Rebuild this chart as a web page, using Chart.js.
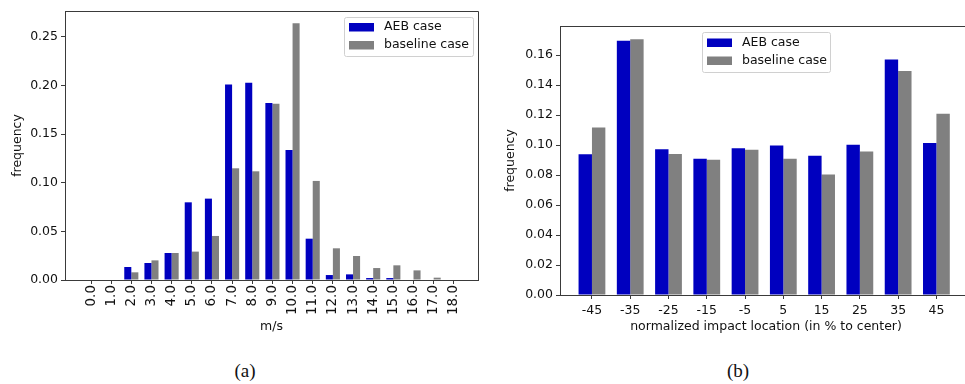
<!DOCTYPE html>
<html>
<head>
<meta charset="utf-8">
<script src="https://cdn.jsdelivr.net/npm/chart.js@4/dist/chart.umd.min.js"></script>
<style>
  html, body { margin:0; padding:0; background:#fff; width:965px; height:384px; overflow:hidden; }
  #wrapA { position:absolute; left:0; top:0; width:500px; height:340px; }
  #wrapB { position:absolute; left:500px; top:0; width:480px; height:340px; }
  .sub { position:absolute; top:360px; font-family:"Liberation Serif", "DejaVu Serif", serif; font-size:19px; color:#111; transform:translateX(-50%); }
</style>
</head>
<body>
<div id="wrapA"><canvas id="chartA" width="500" height="340"></canvas></div>
<div id="wrapB"><canvas id="chartB" width="480" height="340"></canvas></div>
<div class="sub" style="left:245px;">(a)</div>
<div class="sub" style="left:738px;">(b)</div>
<script>
// ---- data (a): impact speed distribution ----
const speedLabels = ['0.0','1.0','2.0','3.0','4.0','5.0','6.0','7.0','8.0','9.0','10.0','11.0','12.0','13.0','14.0','15.0','16.0','17.0','18.0'];
const aebSpeed  = [0, 0.0005, 0.0134, 0.0175, 0.0278, 0.0799, 0.0837, 0.2010, 0.2030, 0.1820, 0.1337, 0.0425, 0.0051, 0.0058, 0.0020, 0.0020, 0.0005, 0.0005, 0];
const baseSpeed = [0, 0, 0.0079, 0.0202, 0.0278, 0.0292, 0.0453, 0.1149, 0.1118, 0.1814, 0.2640, 0.1019, 0.0326, 0.0247, 0.0123, 0.0151, 0.0099, 0.0024, 0];
const speedYTicks = [0, 0.05, 0.10, 0.15, 0.20, 0.25];

// ---- data (b): normalized impact location ----
const impactLabels = ['-45','-35','-25','-15','-5','5','15','25','35','45'];
const aebImpact  = [0.0939, 0.1696, 0.0972, 0.0910, 0.0979, 0.0997, 0.0930, 0.1003, 0.1572, 0.1014];
const baseImpact = [0.1117, 0.1707, 0.0941, 0.0903, 0.0970, 0.0910, 0.0804, 0.0957, 0.1494, 0.1210];
const impactYTicks = [0, 0.02, 0.04, 0.06, 0.08, 0.10, 0.12, 0.14, 0.16];

const seriesNames = ['AEB case', 'baseline case'];
const BLUE = '#0000bf';
const GRAY = '#808080';
const FONT = 'DejaVu Sans';
const AXIS = '#3a3a3a';

const toXY = arr => arr.map((v, i) => ({x: i, y: v}));

const framePlugin = {
  id: 'frame',
  afterDraw(chart) {
    const {ctx, chartArea: a} = chart;
    ctx.save();
    ctx.strokeStyle = AXIS;
    ctx.lineWidth = 1;
    ctx.beginPath();
    ctx.moveTo(a.left, a.top + 0.5);
    ctx.lineTo(a.right + 0.5, a.top + 0.5);
    ctx.lineTo(a.right + 0.5, a.bottom);
    ctx.stroke();
    ctx.restore();
  }
};

const boxLegend = {
  id: 'boxLegend',
  afterDraw(chart, args, o) {
    const ctx = chart.ctx;
    ctx.save();
    ctx.fillStyle = 'rgba(255,255,255,0.85)';
    ctx.strokeStyle = '#d0d0d0';
    ctx.lineWidth = 1;
    ctx.beginPath();
    ctx.roundRect(o.x + 0.5, o.y + 0.5, o.w, o.h, 2);
    ctx.fill();
    ctx.stroke();
    ctx.font = '12.5px "' + FONT + '"';
    ctx.textBaseline = 'middle';
    chart.data.datasets.forEach((ds, i) => {
      const cy = o.y + o.row0 + i * o.gap;
      ctx.fillStyle = ds.backgroundColor;
      ctx.fillRect(o.swX, cy - 4, 25, 8.5);
      ctx.fillStyle = '#111';
      ctx.fillText(ds.label, o.txX, cy);
    });
    ctx.restore();
  }
};

function makeChart(id, labels, aeb, base, yTicks, ymax, xmin, xmax, xFmt, opts) {
  return new Chart(document.getElementById(id), {
    type: 'bar',
    data: {
      datasets: [
        {label: seriesNames[0], data: toXY(aeb), backgroundColor: BLUE, borderWidth: 0},
        {label: seriesNames[1], data: toXY(base), backgroundColor: GRAY, borderWidth: 0}
      ]
    },
    options: {
      responsive: false,
      animation: false,
      events: [],
      categoryPercentage: 0.7,
      barPercentage: 1.0,
      layout: {padding: opts.padding},
      plugins: {
        legend: {display: false},
        tooltip: {enabled: false},
        boxLegend: opts.legend
      },
      scales: {
        x: {
          type: 'linear',
          offset: false,
          min: xmin, max: xmax,
          afterBuildTicks: s => { s.ticks = labels.map((l, i) => ({value: i})); },
          afterFit: s => { s.height = opts.xHeight; },
          ticks: {
            callback: (v) => xFmt(v),
            font: {family: FONT, size: opts.xTickSize},
            color: '#111',
            padding: opts.xTickPad,
            minRotation: opts.rot, maxRotation: opts.rot,
            autoSkip: false
          },
          grid: {offset: false, drawOnChartArea: false, drawTicks: true, tickLength: 4, color: AXIS},
          border: {display: true, color: AXIS, width: 1},
          title: {display: true, text: opts.xTitle, font: {family: FONT, size: 12.5}, color: '#111', padding: {top: 0, bottom: opts.xTitlePad}}
        },
        y: {
          type: 'linear',
          min: 0, max: ymax,
          afterBuildTicks: s => { s.ticks = yTicks.map(v => ({value: v})); },
          afterFit: s => { s.width = opts.yWidth; },
          ticks: {
            callback: v => v.toFixed(2),
            font: {family: FONT, size: 12.5},
            color: '#111',
            padding: 3
          },
          grid: {drawOnChartArea: false, drawTicks: true, tickLength: 4, color: AXIS},
          border: {display: true, color: AXIS, width: 1},
          title: {display: true, text: 'frequency', font: {family: FONT, size: 12.5}, color: '#111', padding: {top: opts.yTitlePad, bottom: 0}}
        }
      }
    },
    plugins: [framePlugin, boxLegend]
  });
}

makeChart('chartA', speedLabels, aebSpeed, baseSpeed, speedYTicks, 0.2767, -1.29, 19.2,
  v => speedLabels[Math.round(v)] ?? '',
  {
    padding: {top: 11, right: 22, left: 0, bottom: 0},
    xHeight: 60, yWidth: 65, xTickPad: 1, rot: 90, xTickSize: 13.5,
    xTitle: 'm/s', xTitlePad: 6, yTitlePad: 10,
    legend: {x: 344, y: 17, w: 129, h: 39, row0: 10, gap: 18, swX: 349, txX: 384}
  });

makeChart('chartB', impactLabels, aebImpact, baseImpact, impactYTicks, 0.1795, -0.835, 9.93,
  v => impactLabels[Math.round(v)] ?? '',
  {
    padding: {top: 26, right: 8, left: 0, bottom: 0},
    xHeight: 45, yWidth: 60, xTickPad: 4, rot: 0, xTickSize: 12.5,
    xTitle: 'normalized impact location (in % to center)', xTitlePad: 6, yTitlePad: 3,
    legend: {x: 202, y: 32, w: 128, h: 40, row0: 10.5, gap: 18, swX: 207, txX: 242}
  });
</script>
</body>
</html>
